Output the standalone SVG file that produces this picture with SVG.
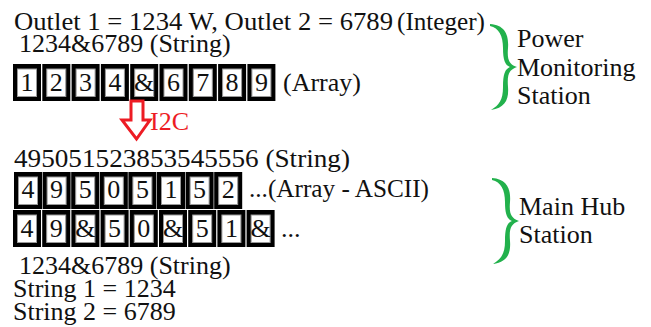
<svg xmlns="http://www.w3.org/2000/svg" width="651" height="327" viewBox="0 0 651 327" font-family="'Liberation Serif', 'DejaVu Serif', 'Times New Roman', Times, serif">
  <style>
    text { font-family: "Liberation Serif", "DejaVu Serif", "Times New Roman", Times, serif; font-size: 26px; fill: #111; }
    .cell-o { fill: #000; }
    .cell-i { fill: #fff; stroke: #9a9a9a; stroke-width: 1; }
    .cell-t { text-anchor: middle; }
    .red { fill: #ed1c24; }
    .brace { fill: #22b14c; }
  </style>
  <defs>
    <!-- one cell of an array: black frame, white face -->
    <symbol id="cell" overflow="visible">
      <rect class="cell-o" x="0" y="0" width="28" height="37"/>
      <rect class="cell-i" x="4.5" y="5" width="19" height="27.5"/>
    </symbol>
    <!-- tapered curly brace -->
    <path id="brace" class="brace" d="M490 24 C505 25 509 35 508 48 C507 60 509 64 517 67 C509 70 507 74 508 87 C509 100 505 108 491 110 C499 105 503 100 503 87 C503 74 505 69 510 67 C505 65 503 60 503 48 C503 36 499 28 490 26 Z"/>
  </defs>

  <!-- Power Monitoring Station -->
  <g id="pms-values">
    <text x="14" y="30" textLength="379" lengthAdjust="spacingAndGlyphs">Outlet 1 = 1234 W, Outlet 2 = 6789</text>
    <text x="397" y="30" textLength="88" lengthAdjust="spacingAndGlyphs">(Integer)</text>
    <text x="19" y="52">1234&amp;6789 (String)</text>
  </g>

  <g id="pms-array">
    <g id="a1-0"><use href="#cell" x="13" y="64"/><text class="cell-t" x="27" y="91">1</text></g>
    <g id="a1-1"><use href="#cell" x="42.3" y="64"/><text class="cell-t" x="56.3" y="91">2</text></g>
    <g id="a1-2"><use href="#cell" x="71.6" y="64"/><text class="cell-t" x="85.6" y="91">3</text></g>
    <g id="a1-3"><use href="#cell" x="100.9" y="64"/><text class="cell-t" x="114.9" y="91">4</text></g>
    <g id="a1-4"><use href="#cell" x="130.2" y="64"/><text class="cell-t" x="144.2" y="91">&amp;</text></g>
    <g id="a1-5"><use href="#cell" x="159.5" y="64"/><text class="cell-t" x="173.5" y="91">6</text></g>
    <g id="a1-6"><use href="#cell" x="188.8" y="64"/><text class="cell-t" x="202.8" y="91">7</text></g>
    <g id="a1-7"><use href="#cell" x="218.1" y="64"/><text class="cell-t" x="232.1" y="91">8</text></g>
    <g id="a1-8"><use href="#cell" x="247.4" y="64"/><text class="cell-t" x="261.4" y="91">9</text></g>
    <text x="283" y="91">(Array)</text>
  </g>

  <g id="pms-label">
    <use href="#brace"/>
    <text x="517" y="47">Power</text>
    <text x="517" y="76">Monitoring</text>
    <text x="517" y="104">Station</text>
  </g>

  <!-- I2C transfer -->
  <g id="connectors">
    <polygon points="131,101 143,101 143,120 150,120 136.5,139 122,120 131,120" fill="#fff" stroke="#ed1c24" stroke-width="3" stroke-linejoin="miter"/>
    <text class="red" x="150" y="130">I2C</text>
  </g>

  <!-- Main Hub Station -->
  <g id="mhs-string">
    <text x="14" y="167" textLength="336" lengthAdjust="spacingAndGlyphs">495051523853545556 (String)</text>
  </g>

  <g id="mhs-ascii">
    <g id="a2-0"><use href="#cell" x="14" y="172"/><text class="cell-t" x="28" y="198">4</text></g>
    <g id="a2-1"><use href="#cell" x="42.6" y="172"/><text class="cell-t" x="56.6" y="198">9</text></g>
    <g id="a2-2"><use href="#cell" x="71.2" y="172"/><text class="cell-t" x="85.2" y="198">5</text></g>
    <g id="a2-3"><use href="#cell" x="99.8" y="172"/><text class="cell-t" x="113.8" y="198">0</text></g>
    <g id="a2-4"><use href="#cell" x="128.4" y="172"/><text class="cell-t" x="142.4" y="198">5</text></g>
    <g id="a2-5"><use href="#cell" x="157" y="172"/><text class="cell-t" x="171" y="198">1</text></g>
    <g id="a2-6"><use href="#cell" x="185.6" y="172"/><text class="cell-t" x="199.6" y="198">5</text></g>
    <g id="a2-7"><use href="#cell" x="214.2" y="172"/><text class="cell-t" x="228.2" y="198">2</text></g>
    <text x="249" y="197" textLength="180" lengthAdjust="spacingAndGlyphs">...(Array - ASCII)</text>
  </g>

  <g id="mhs-split">
    <g id="a3-0"><use href="#cell" x="13" y="210"/><text class="cell-t" x="27" y="237">4</text></g>
    <g id="a3-1"><use href="#cell" x="42.2" y="210"/><text class="cell-t" x="56.2" y="237">9</text></g>
    <g id="a3-2"><use href="#cell" x="71.4" y="210"/><text class="cell-t" x="85.4" y="237">&amp;</text></g>
    <g id="a3-3"><use href="#cell" x="100.6" y="210"/><text class="cell-t" x="114.6" y="237">5</text></g>
    <g id="a3-4"><use href="#cell" x="129.8" y="210"/><text class="cell-t" x="143.8" y="237">0</text></g>
    <g id="a3-5"><use href="#cell" x="159" y="210"/><text class="cell-t" x="173" y="237">&amp;</text></g>
    <g id="a3-6"><use href="#cell" x="188.2" y="210"/><text class="cell-t" x="202.2" y="237">5</text></g>
    <g id="a3-7"><use href="#cell" x="217.4" y="210"/><text class="cell-t" x="231.4" y="237">1</text></g>
    <g id="a3-8"><use href="#cell" x="246.6" y="210"/><text class="cell-t" x="260.6" y="237">&amp;</text></g>
    <text x="281" y="237">...</text>
  </g>

  <g id="mhs-result">
    <text x="19" y="274">1234&amp;6789 (String)</text>
    <text x="13" y="297">String 1 = 1234</text>
    <text x="13" y="320">String 2 = 6789</text>
  </g>

  <g id="mhs-label">
    <use href="#brace" transform="translate(2 154)"/>
    <text x="519" y="215">Main Hub</text>
    <text x="519" y="243">Station</text>
  </g>
</svg>
